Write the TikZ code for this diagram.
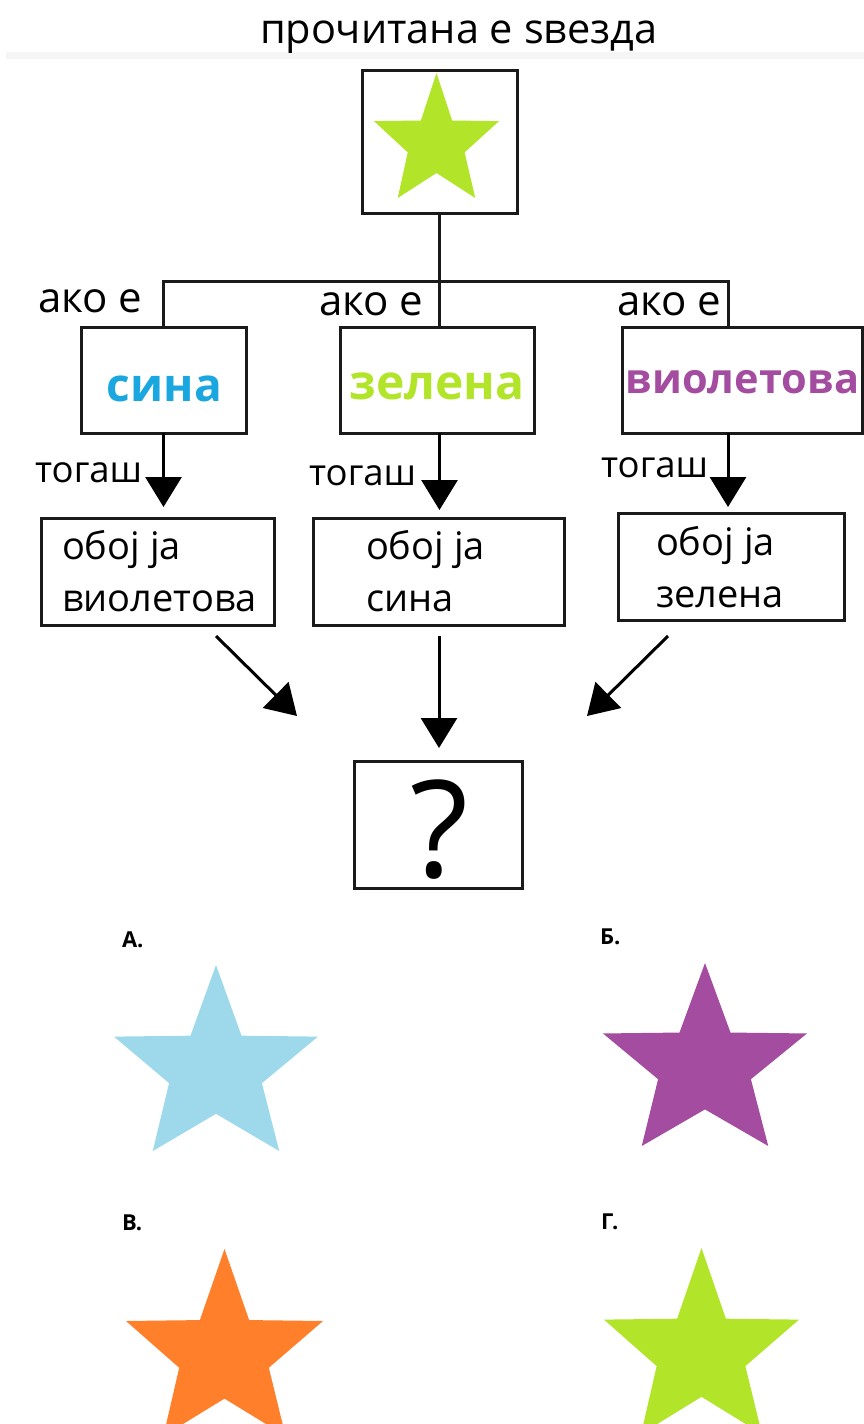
\documentclass[tikz,border=0pt]{standalone}
\usepackage{fontspec}
\setmainfont{Open Sans}
\usetikzlibrary{arrows.meta,calc}
\definecolor{lime}{HTML}{B2E52A}
\definecolor{skyb}{HTML}{9DD9EB}
\definecolor{viol}{HTML}{A34CA0}
\definecolor{orng}{HTML}{FF7F2A}
\definecolor{cyanb}{HTML}{1AA7E0}
\definecolor{line}{HTML}{1A1A1A}
\newcommand{\starat}[5]{% colour, left, right, top, bottom
  \fill[#1] ({#2+0.5*(#3-#2)},#4)
   -- ({#2+0.625*(#3-#2)},{#4+0.38*(#5-#4)})
   -- (#3,{#4+0.385*(#5-#4)})
   -- ({#2+0.725*(#3-#2)},{#4+0.635*(#5-#4)})
   -- ({#2+0.81*(#3-#2)},#5)
   -- ({#2+0.5*(#3-#2)},{#4+0.80*(#5-#4)})
   -- ({#2+0.19*(#3-#2)},#5)
   -- ({#2+0.27*(#3-#2)},{#4+0.635*(#5-#4)})
   -- (#2,{#4+0.385*(#5-#4)})
   -- ({#2+0.375*(#3-#2)},{#4+0.38*(#5-#4)}) -- cycle;}
\tikzset{
  x=1pt,y=-1pt,
  boxn/.style={draw=line,line width=3pt,minimum width=#1,inner sep=0pt,outer sep=0pt},
  conn/.style={draw=line,line width=3pt},
  arr/.style={draw=black,line width=3pt,-{Triangle[length=30pt,width=36pt]}},
  lbl/.style={anchor=base west,inner sep=0pt,outer sep=0pt,font=\fontsize{42}{42}\selectfont,text=black},
  lbs/.style={anchor=base west,inner sep=0pt,outer sep=0pt,font=\fontsize{36.5}{36}\selectfont,text=black},
  act/.style={anchor=base west,inner sep=0pt,outer sep=0pt,font=\fontsize{38}{38}\selectfont,text=black},
  col/.style={anchor=base,inner sep=0pt,outer sep=0pt,font=\fontsize{46}{46}\selectfont\bfseries},
  opt/.style={anchor=base west,inner sep=0pt,outer sep=0pt,font=\fontsize{22}{22}\selectfont\bfseries},
}
\begin{document}
\begin{tikzpicture}
\useasboundingbox (0,0) rectangle (864,1424);
\clip (0,0) rectangle (864,1424);
\fill[white] (0,0) rectangle (864,1424);
\fill[gray!8] (6,52) rectangle (864,59);
\node[lbl,font=\fontsize{41.5}{41.5}\selectfont] (title) at (260,43) {прочитана е ѕвезда};

\node[boxn=155pt,minimum height=143pt] (top) at (439.5,141.5) {};
\starat{lime}{374}{499}{73}{198}

\node[boxn=165pt,minimum height=106pt] (sina) at (163.5,380) {};
\node[boxn=194pt,minimum height=106pt] (zel) at (437,380) {};
\node[boxn=240pt,minimum height=106pt] (vio) at (742,380) {};
\node[col,text=cyanb] (tsina) at (164.5,401) {сина};
\node[col,text=lime,font=\fontsize{48}{48}\selectfont\bfseries] (tzel) at (437,399) {зелена};
\node[col,text=viol,font=\fontsize{41.5}{41.5}\selectfont\bfseries] (tvio) at (742.5,393) {виолетова};

\coordinate (barl) at (163.5,281);
\coordinate (barm) at (439.5,281);
\coordinate (barr) at (728,281);
\coordinate (zelt) at (439.5,327);
\coordinate (viot) at (728,327);
\coordinate (zelb) at (439.5,433);
\coordinate (viob) at (728,433);
\draw[conn] (top.south) -- (barm);
\draw[conn] (sina.north) -- (barl) -- (barr) -- (viot);
\draw[conn] (barm) -- (zelt);

\node[lbl] (a1) at (38,312.5) {ако е};
\node[lbl] (a2) at (319,315.5) {ако е};
\node[lbl] (a3) at (617,315.5) {ако е};

\node[boxn=233pt,minimum height=107pt] (ac1) at (157.5,571.5) {};
\node[boxn=251pt,minimum height=107pt] (ac2) at (438.5,571.5) {};
\node[boxn=226pt,minimum height=107pt] (ac3) at (731,566.5) {};
\node[act] (t11) at (62,559) {обој ја};
\node[act] (t12) at (62,611) {виолетова};
\node[act] (t21) at (366,559) {обој ја};
\node[act] (t22) at (366,611) {сина};
\node[act] (t31) at (656,555) {обој ја};
\node[act] (t32) at (656,607) {зелена};

\node[lbs] (g1) at (35,482) {тогаш};
\node[lbs] (g2) at (309,485) {тогаш};
\node[lbs] (g3) at (601,477) {тогаш};

\coordinate (tip1) at (163.5,507);
\coordinate (tip2) at (439.5,510);
\coordinate (tip3) at (728,507);
\draw[arr] (sina.south) -- (tip1);
\draw[arr] (zelb) -- (tip2);
\draw[arr] (viob) -- (tip3);

\node[boxn=168pt,minimum height=127pt] (q) at (438,824.5) {};
\node[anchor=base,inner sep=0pt,font=\fontsize{135}{135}\selectfont] (qm) at (439,877) {?};

\coordinate (s1) at (216,636);
\coordinate (e1) at (297,716);
\coordinate (s2) at (439,636);
\coordinate (e2) at (439,748);
\coordinate (s3) at (668,636);
\coordinate (e3) at (587,716);
\draw[arr] (s1) -- (e1);
\draw[arr] (s2) -- (e2);
\draw[arr] (s3) -- (e3);

\node[opt] (oa) at (122,947) {А.};
\node[opt] (ob) at (600,944) {Б.};
\node[opt] (oc) at (122,1230) {В.};
\node[opt] (od) at (601,1229) {Г.};
\starat{skyb}{114}{318}{965}{1151}
\starat{viol}{603}{807}{963}{1146}
\starat{orng}{126}{323}{1249}{1436}
\starat{lime}{604}{799}{1248}{1434}
\end{tikzpicture}
\end{document}
